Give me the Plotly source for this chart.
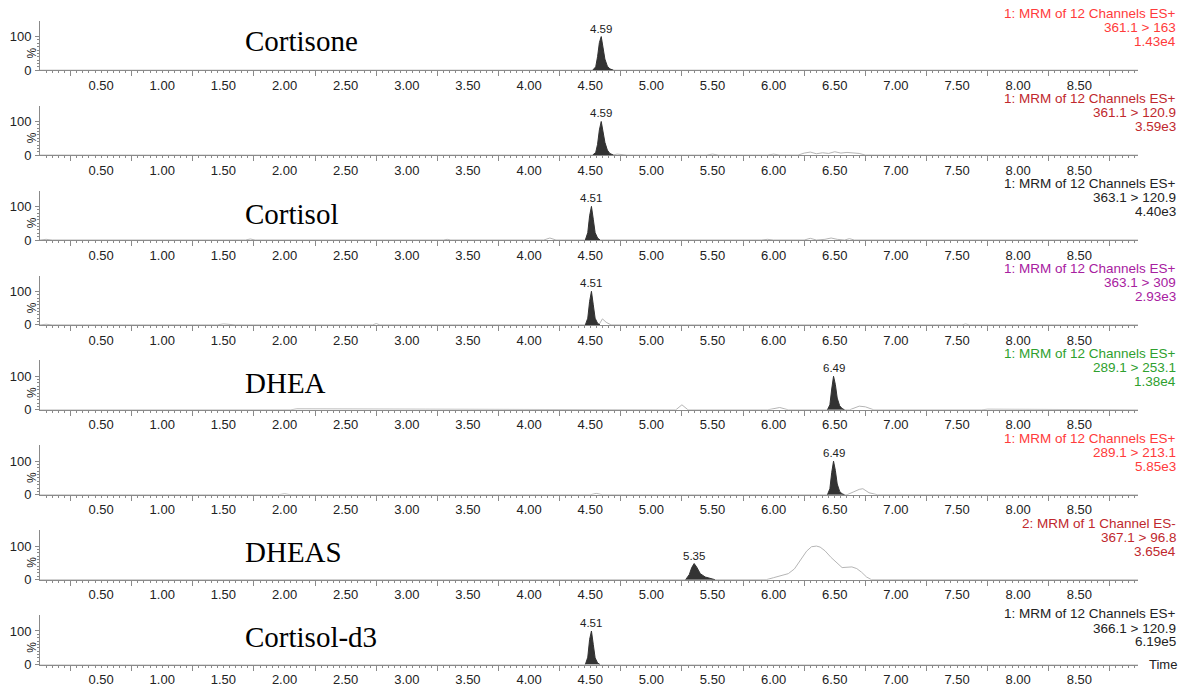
import plotly.graph_objects as go

# ---------------- data ----------------
compound_labels = ["Cortisone", "", "Cortisol", "", "DHEA", "", "DHEAS", "Cortisol-d3"]
compound_label_y = [86, None, 78, None, 80, None, 82, 82]
channel_line1 = ["1: MRM of 12 Channels ES+"] * 6 + ["2: MRM of 1 Channel ES-", "1: MRM of 12 Channels ES+"]
channel_line2 = ["361.1 > 163", "361.1 > 120.9", "363.1 > 120.9", "363.1 > 309",
                 "289.1 > 253.1", "289.1 > 213.1", "367.1 > 96.8", "366.1 > 120.9"]
channel_scale = ["1.43e4", "3.59e3", "4.40e3", "2.93e3", "1.38e4", "5.85e3", "3.65e4", "6.19e5"]
peak_rt_labels = ["4.59", "4.59", "4.51", "4.51", "6.49", "6.49", "5.35", "4.51"]
peak_rt_values = [4.59, 4.59, 4.51, 4.51, 6.49, 6.49, 5.35, 4.51]
peak_apex = [100, 100, 100, 100, 100, 100, 48, 100]
tick_label_values = [0.5, 1.0, 1.5, 2.0, 2.5, 3.0, 3.5, 4.0, 4.5, 5.0, 5.5, 6.0, 6.5, 7.0, 7.5, 8.0, 8.5]

# filled (integrated) peaks
p1_peak_t = [4.52, 4.545, 4.56, 4.575, 4.59, 4.605, 4.62, 4.64, 4.66, 4.69]
p1_peak_i = [0, 10, 40, 82, 100, 70, 33, 12, 4, 0]
p2_peak_t = [4.52, 4.545, 4.56, 4.575, 4.59, 4.605, 4.62, 4.64, 4.66, 4.69]
p2_peak_i = [0, 8, 32, 75, 100, 72, 38, 15, 5, 0]
p3_peak_t = [4.46, 4.48, 4.495, 4.51, 4.525, 4.54, 4.56, 4.58]
p3_peak_i = [0, 22, 72, 100, 62, 22, 6, 0]
p4_peak_t = [4.46, 4.48, 4.495, 4.51, 4.525, 4.54, 4.56, 4.58]
p4_peak_i = [0, 20, 70, 100, 60, 20, 5, 0]
p5_peak_t = [6.44, 6.46, 6.475, 6.49, 6.505, 6.52, 6.54, 6.56, 6.58]
p5_peak_i = [0, 15, 62, 100, 75, 35, 12, 4, 0]
p6_peak_t = [6.44, 6.46, 6.475, 6.49, 6.505, 6.52, 6.54, 6.56, 6.58]
p6_peak_i = [0, 18, 66, 100, 72, 32, 10, 3, 0]
p7_peak_t = [5.28, 5.31, 5.33, 5.35, 5.37, 5.40, 5.44, 5.48, 5.52]
p7_peak_i = [0, 15, 36, 48, 38, 18, 8, 3, 0]
p8_peak_t = [4.46, 4.48, 4.495, 4.51, 4.525, 4.54, 4.56, 4.58]
p8_peak_i = [0, 22, 75, 100, 60, 20, 5, 0]

# baseline / un-integrated trace
p1_base_t = [0.0, 4.5, 4.7, 4.75, 6.45, 6.5, 6.55, 8.98]
p1_base_i = [0, 0, 0, 1, 0, 2, 0, 0]
p2_base_t = [0.0, 4.68, 4.72, 4.76, 4.8, 5.45, 5.5, 5.55, 5.95, 6.0, 6.05, 6.2, 6.25, 6.3, 6.35, 6.4,
             6.45, 6.5, 6.55, 6.6, 6.65, 6.7, 6.75, 8.98]
p2_base_i = [0, 0, 3, 2, 0, 0, 3, 0, 0, 3, 0, 0, 6, 9, 4, 7, 5, 10, 6, 8, 7, 5, 0, 0]
p3_base_t = [0.0, 0.05, 0.1, 0.65, 0.7, 0.75, 1.68, 1.72, 1.76, 3.3, 3.33, 3.36, 4.12, 4.17, 4.22,
             5.9, 5.95, 6.0, 6.25, 6.3, 6.35, 6.42, 6.47, 6.52, 6.58, 6.62, 6.66, 8.98]
p3_base_i = [0, 2, 0, 0, 2, 0, 0, 3, 0, 0, 2, 0, 0, 6, 0, 0, 2, 0, 0, 5, 0, 2, 6, 2, 0, 4, 0, 0]
p4_base_t = [0.0, 0.05, 0.1, 1.45, 1.5, 1.55, 1.6, 2.72, 2.75, 2.78, 4.57, 4.60, 4.63, 4.67,
             7.54, 7.57, 7.6, 8.98]
p4_base_i = [0, 2, 0, 0, 3, 2, 0, 0, 4, 0, 0, 18, 8, 0, 0, 3, 0, 0]
p5_base_t = [0.0, 0.5, 0.55, 1.5, 1.55, 2.05, 2.1, 3.1, 3.15, 5.2, 5.25, 5.3, 5.95, 6.05, 6.12,
             6.62, 6.7, 6.75, 6.82, 7.7, 7.75, 8.98]
p5_base_i = [0, 0, 2, 0, 2, 0, 3, 0, 2, 0, 15, 0, 0, 7, 0, 0, 11, 9, 0, 0, 2, 0]
p6_base_t = [0.0, 1.95, 2.0, 2.05, 4.5, 4.55, 4.6, 6.6, 6.65, 6.7, 6.73, 6.78, 6.85, 8.98]
p6_base_i = [0, 0, 3, 0, 0, 4, 0, 0, 8, 16, 18, 6, 0, 0]
p7_base_t = [0.0, 5.94, 6.0, 6.08, 6.12, 6.17, 6.22, 6.27, 6.31, 6.35, 6.38, 6.42, 6.47, 6.52,
             6.56, 6.60, 6.64, 6.68, 6.72, 6.76, 6.80, 8.98]
p7_base_i = [0, 0, 6, 15, 18, 32, 58, 85, 98, 100, 97, 86, 66, 48, 36, 37, 38, 33, 22, 8, 0, 0]
p8_base_t = [0.0, 8.98]
p8_base_i = [0, 0]

peaks_t = [p1_peak_t, p2_peak_t, p3_peak_t, p4_peak_t, p5_peak_t, p6_peak_t, p7_peak_t, p8_peak_t]
peaks_i = [p1_peak_i, p2_peak_i, p3_peak_i, p4_peak_i, p5_peak_i, p6_peak_i, p7_peak_i, p8_peak_i]
bases_t = [p1_base_t, p2_base_t, p3_base_t, p4_base_t, p5_base_t, p6_base_t, p7_base_t, p8_base_t]
bases_i = [p1_base_i, p2_base_i, p3_base_i, p4_base_i, p5_base_i, p6_base_i, p7_base_i, p8_base_i]

# ---------------- styling ----------------
W, H = 1189, 698
channel_colors = ["#ff3b3b", "#c0282d", "#222222", "#a8209f", "#2ea02e", "#ff3b3b", "#c0282d", "#222222"]
text_line_offsets = [[-57, -43, -29]] * 7 + [[-52, -37, -23]]
AXIS_GRAY = "#8a8a8a"
SANS = "Liberation Sans, Arial, sans-serif"
SERIF = "Liberation Serif, Times New Roman, serif"

x_left_px, x_right_px = 40, 1138
y0_first, y_step = 71, 85.9
panel_height_px = 50
px_per_100 = 34
y_top = 100 * panel_height_px / px_per_100

minor_x = [round(0.05 * k, 2) for k in range(1, 180)]
tall_x = [0.25 + 0.5 * k for k in range(18)]
major_text = [("%.2f" % v) if any(abs(v - t) < 1e-6 for t in tick_label_values) else "" for v in minor_x]

fig = go.Figure()
annotations = []
layout = dict(width=W, height=H, autosize=False, margin=dict(l=0, r=0, t=0, b=0),
              paper_bgcolor="white", plot_bgcolor="white", showlegend=False,
              font=dict(family=SANS, color="#222222"))

for i in range(8):
    xa = "x" if i == 0 else f"x{i+1}"
    ya = "y" if i == 0 else f"y{i+1}"
    xkey = "xaxis" if i == 0 else f"xaxis{i+1}"
    ykey = "yaxis" if i == 0 else f"yaxis{i+1}"
    y0 = y0_first + y_step * i

    fig.add_trace(go.Scatter(x=bases_t[i], y=bases_i[i], mode="lines",
                             line=dict(color="#b5b5b5", width=1), xaxis=xa, yaxis=ya,
                             hoverinfo="skip"))
    fig.add_trace(go.Scatter(x=peaks_t[i], y=peaks_i[i], mode="lines", fill="tozeroy",
                             fillcolor="#333333", line=dict(color="#333333", width=1),
                             xaxis=xa, yaxis=ya))

    layout[xkey] = dict(domain=[x_left_px / W, x_right_px / W], range=[0, 8.98], anchor=ya,
                        showline=True, linecolor=AXIS_GRAY, linewidth=1, showgrid=False,
                        zeroline=False, ticks="outside", tickmode="array", tickvals=minor_x,
                        ticktext=major_text, ticklen=2, tickcolor=AXIS_GRAY, tickwidth=1,
                        ticklabelstandoff=1,
                        minor=dict(tickmode="array", tickvals=tall_x, ticks="outside",
                                   ticklen=5, tickcolor=AXIS_GRAY, tickwidth=1, showgrid=False),
                        tickfont=dict(size=13, color="#222222", family=SANS), fixedrange=True)
    layout[ykey] = dict(domain=[1 - y0 / H, 1 - (y0 - panel_height_px) / H], range=[0, y_top],
                        anchor=xa, showline=True, linecolor=AXIS_GRAY, linewidth=1,
                        showgrid=False, zeroline=False, ticks="outside", tickmode="array",
                        tickvals=[0, 100], ticktext=["0", "100"], ticklen=4,
                        tickcolor=AXIS_GRAY, ticklabelstandoff=1,
                        minor=dict(tickmode="array", tickvals=list(range(10, 100, 10)),
                                   ticks="outside", ticklen=2, tickcolor=AXIS_GRAY,
                                   showgrid=False),
                        tickfont=dict(size=13, color="#222222", family=SANS), fixedrange=True)

    # "%" unit label
    annotations.append(dict(x=32 / W, xref="paper", y=50, yref=ya, text="%", showarrow=False,
                            textangle=-90, font=dict(size=12, family=SANS, color="#222222"),
                            xanchor="center", yanchor="middle"))
    # peak retention-time label
    annotations.append(dict(x=peak_rt_values[i], xref=xa, y=peak_apex[i], yref=ya,
                            text=peak_rt_labels[i], showarrow=False, yanchor="bottom",
                            xanchor="center", yshift=0,
                            font=dict(size=11.5, family=SANS, color="#222222")))
    # compound name
    if compound_labels[i]:
        annotations.append(dict(x=1.66, xref=xa, y=compound_label_y[i], yref=ya,
                                text=compound_labels[i], showarrow=False, xanchor="left",
                                yanchor="middle",
                                font=dict(size=29, family=SERIF, color="#000000")))
    # channel description (right)
    for txt, off in zip([channel_line1[i], channel_line2[i], channel_scale[i]], text_line_offsets[i]):
        annotations.append(dict(x=1178 / W, xref="paper", y=1 - (y0 + off) / H, yref="paper",
                                text=txt, showarrow=False, xanchor="right", yanchor="middle",
                                font=dict(size=13.5, family=SANS, color=channel_colors[i])))

annotations.append(dict(x=1163 / W, xref="paper", y=0, yref="y8", text="Time", showarrow=False,
                        xanchor="center", yanchor="middle",
                        font=dict(size=13, family=SANS, color="#222222")))

layout["annotations"] = annotations
fig.update_layout(**layout)
fig.write_html("out.html", config={"displayModeBar": False},
               post_script="document.body.style.margin='0px';document.body.style.overflow='hidden';")
